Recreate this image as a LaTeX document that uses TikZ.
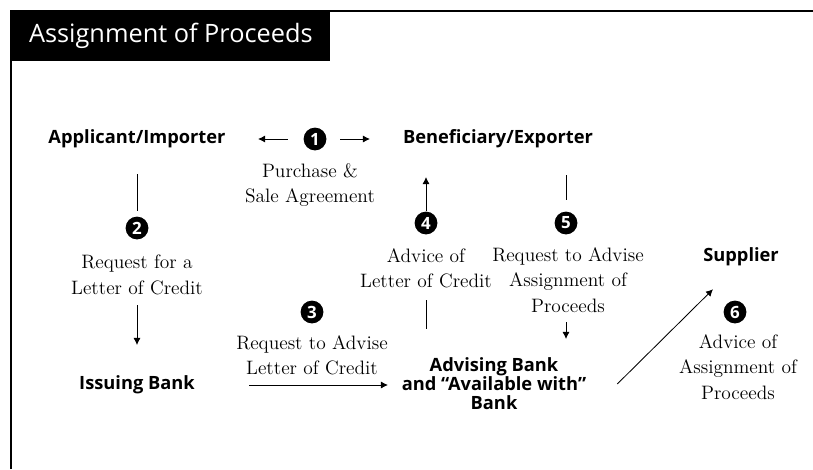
\documentclass[tikz,border=0pt]{standalone}
\usepackage{fontspec}
\setsansfont{Open Sans}
\usetikzlibrary{arrows.meta, positioning}

\begin{document}
\begin{tikzpicture}[
    x=0.025cm, y=-0.025cm,
    party/.style={font=\sffamily\bfseries\fontsize{13}{13.5}\selectfont, align=center, inner sep=2pt},
    note/.style={font=\fontsize{13.8}{18}\selectfont, align=center, inner sep=1pt},
    num/.style={circle, fill=black, text=white, inner sep=0pt, minimum size=0.57cm,
                font=\sffamily\bfseries\fontsize{12}{12}\selectfont},
    e/.style={-{Latex[length=5pt, width=5pt]}, semithick},
    ln/.style={semithick}
]
\useasboundingbox (0,0) rectangle (813,469);
% frame and title bar
\draw[line width=0.8pt] (11,469) -- (11,11) -- (813,11);
\node[fill=black, text=white, anchor=north west, minimum width=7.975cm, minimum height=1.25cm,
      font=\sffamily\fontsize{18}{18}\selectfont] (title) at (11,11) {Assignment of Proceeds};

% parties
\node[party] (applicant)   at (137,139) {Applicant/Importer};
\node[party] (beneficiary) at (498,139) {Beneficiary/Exporter};
\node[party] (issuing)     at (137,385) {Issuing Bank};
\node[party] (advising)    at (494,384) {Advising Bank\\and ``Available with''\\Bank};
\node[party] (supplier)    at (741,257) {Supplier};

% numbered steps
\node[num] (n1) at (315,139) {1};
\node[note] (sale) at (310,185) {Purchase \&\\Sale Agreement};
\node[num] (n2) at (137,228) {2};
\node[note] (req2) at (137,275) {Request for a\\Letter of Credit};
\node[num] (n3) at (312,312) {3};
\node[note] (req3) at (312,355) {Request to Advise\\Letter of Credit};
\node[num] (n4) at (426,223) {4};
\node[note] (adv4) at (426,268) {Advice of\\Letter of Credit};
\node[num] (n5) at (566,223) {5};
\node[note] (req5) at (568,280) {Request to Advise\\Assignment of\\Proceeds};
\node[num] (n6) at (735,312) {6};
\node[note] (adv6) at (738,367) {Advice of\\Assignment of\\Proceeds};

% step 1
\draw[e, shorten <=0.675cm, shorten >=3.025cm] (n1.center) -- (applicant.center);
\draw[e, shorten <=0.625cm, shorten >=3.2cm] (n1.center) -- (beneficiary.center);
% step 2
\draw[ln, shorten <=0.875cm, shorten >=0.425cm] (applicant.center) -- (n2.center);
\draw[e, shorten <=0.75cm, shorten >=1cm] (req2.center) -- (issuing.center);
% step 3
\draw[e, shorten <=2.8cm, shorten >=2.65cm] (issuing.center) -- (advising.center |- issuing.center);
% step 4
\draw[ln, shorten <=0.8cm, shorten >=1.375cm] (adv4.center) -- (adv4 |- advising);
\draw[e, shorten <=0.3cm, shorten >=0.95cm] (n4.center) -- (n4 |- beneficiary);
% step 5
\draw[ln, shorten <=0.9cm, shorten >=0.575cm] (n5 |- beneficiary) -- (n5.center);
\draw[e, shorten <=1.05cm, shorten >=1.125cm] (n5 |- req5) -- (n5 |- advising);
% step 6
\draw[e] ([xshift=0.7cm]advising.east) -- ([xshift=-0.7cm, yshift=-0.5cm]supplier.south);
\end{tikzpicture}
\end{document}
